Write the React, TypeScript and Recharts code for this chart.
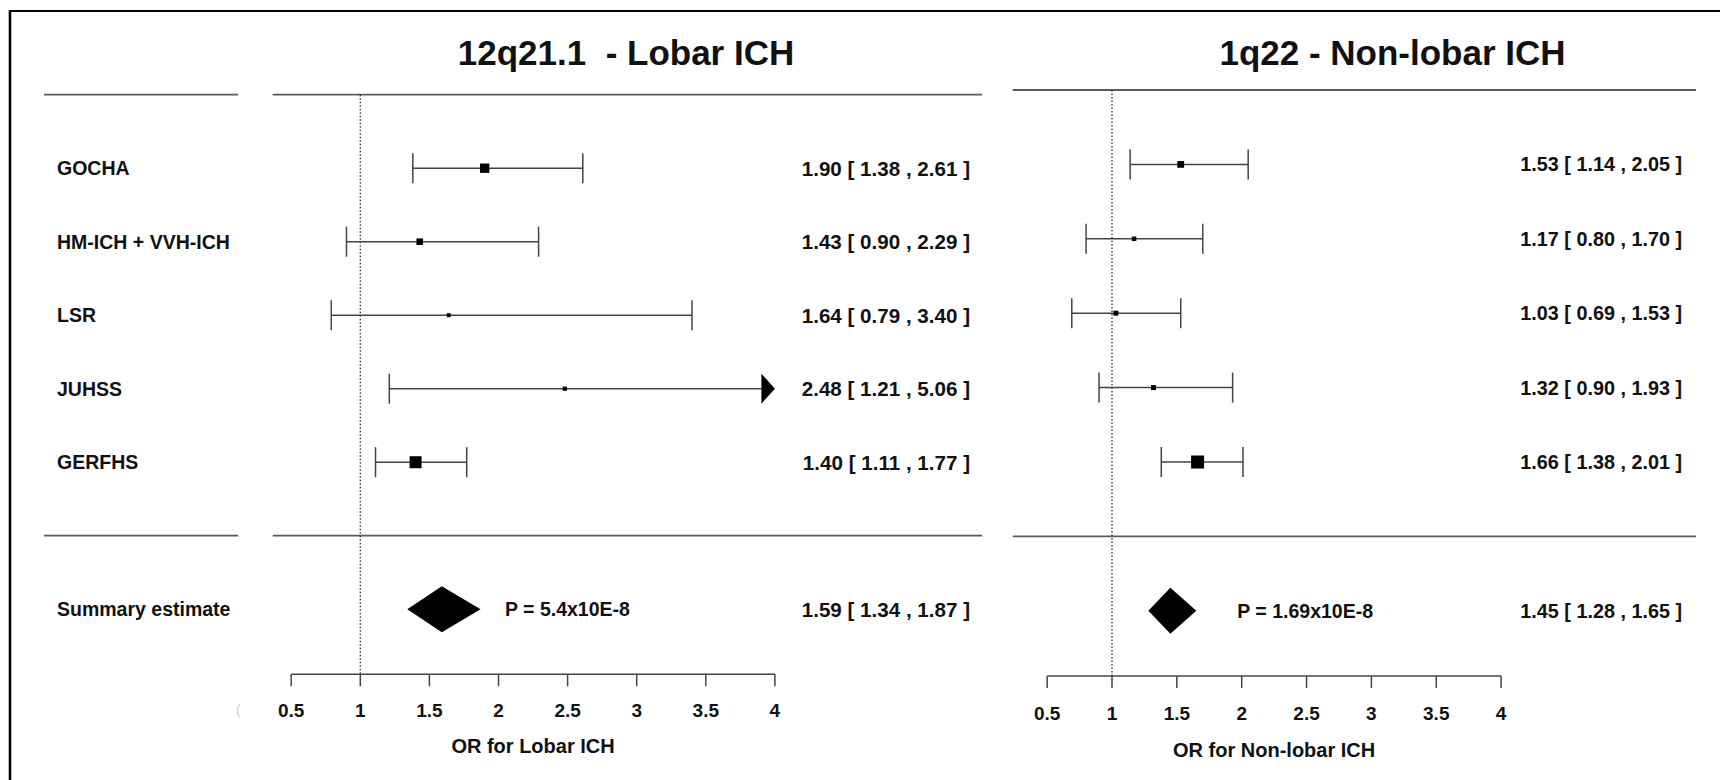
import { ComposedChart, XAxis, YAxis, Scatter, ReferenceLine } from 'recharts'

// Forest plots: two loci, each with five studies plus a summary diamond.

const studies = ['GOCHA', 'HM-ICH + VVH-ICH', 'LSR', 'JUHSS', 'GERFHS']
const summaryLabel = 'Summary estimate'
const orTicks = [0.5, 1, 1.5, 2, 2.5, 3, 3.5, 4]

const lobarTitle = '12q21.1  - Lobar ICH'
const lobarAxisTitle = 'OR for Lobar ICH'
const lobarOR = [1.9, 1.43, 1.64, 2.48, 1.4]
const lobarLow = [1.38, 0.9, 0.79, 1.21, 1.11]
const lobarHigh = [2.61, 2.29, 3.4, 5.06, 1.77]
const lobarWeight = [0.78, 0.55, 0.33, 0.35, 1]
const lobarSummary = [1.59, 1.34, 1.87]
const lobarP = 'P = 5.4x10E-8'

const nonLobarTitle = '1q22 - Non-lobar ICH'
const nonLobarAxisTitle = 'OR for Non-lobar ICH'
const nonLobarOR = [1.53, 1.17, 1.03, 1.32, 1.66]
const nonLobarLow = [1.14, 0.8, 0.69, 0.9, 1.38]
const nonLobarHigh = [2.05, 1.7, 1.53, 1.93, 2.01]
const nonLobarWeight = [0.52, 0.35, 0.38, 0.38, 1]
const nonLobarSummary = [1.45, 1.28, 1.65]
const nonLobarP = 'P = 1.69x10E-8'

const W = 1720
const H = 780
const FONT = '"Liberation Sans", Arial, Helvetica, sans-serif'
const INK = '#111'
const LINE = '#444'
const RULE = '#5a5a5a'
const CAP = 15
const ARROW_LEN = 13.5
const DIAMOND_H = 23

// pixel layout of each panel (both charts span the full page)
const lobarLayout = {
  one: 360.3, unit: 138.2, header: 94.7, step: 73.5, axis: 674.3,
  from: 272.7, to: 982, labelCol: [44, 238], boxMax: 12,
  textFrom: 57, ciEnd: 970, ciSize: 20.6, pOffset: 24.5, titleOffset: 64.3, tickMargin: 24.4,
}
const nonLobarLayout = {
  one: 1112, unit: 129.7, header: 90, step: 74.4, axis: 676,
  from: 1012.7, to: 1696, labelCol: null, boxMax: 13,
  textFrom: 1500, ciEnd: 1682, ciSize: 19.8, pOffset: 41, titleOffset: 66.8, tickMargin: 25.3,
}

const fmt = (v: number) => v.toFixed(2)

const whisker = (truncated: boolean) => (p: any) => {
  const end = truncated ? p.x2 - ARROW_LEN : p.x2
  return (
    <g>
      <line x1={p.x1} y1={p.y1} x2={end} y2={p.y2} stroke={LINE} strokeWidth={1.5} />
      <line x1={p.x1} y1={p.y1 - CAP} x2={p.x1} y2={p.y1 + CAP} stroke={LINE} strokeWidth={1.5} />
      {truncated ? (
        <polygon points={`${end},${p.y2 - CAP} ${p.x2},${p.y2} ${end},${p.y2 + CAP}`} fill="#000" />
      ) : (
        <line x1={p.x2} y1={p.y2 - CAP} x2={p.x2} y2={p.y2 + CAP} stroke={LINE} strokeWidth={1.5} />
      )}
    </g>
  )
}

const diamond = (frac: number) => (p: any) => {
  const mid = p.x1 + (p.x2 - p.x1) * frac
  return (
    <polygon
      points={`${p.x1},${p.y1} ${mid},${p.y1 - DIAMOND_H} ${p.x2},${p.y1} ${mid},${p.y1 + DIAMOND_H}`}
      fill="#000"
    />
  )
}

function ForestPanel({ layout, or, low, high, weight, summary, pText, axisTitle, labels }: any) {
  const L = layout
  const toV = (px: number) => 1 + (px - L.one) / L.unit
  const yTop = -L.header / L.step
  const yBottom = (L.axis - L.header) / L.step
  const sepRow = studies.length + 1
  const sumRow = studies.length + 2
  const xMax = orTicks[orTicks.length - 1]

  const rows = studies.map((name, i) => ({
    name, row: i + 1, or: or[i], low: low[i], high: high[i], w: weight[i],
  }))
  const textRows = [...rows.map(r => r.row), sumRow]

  const ciText = (row: number) => {
    if (row === sumRow) return `${fmt(summary[0])} [ ${fmt(summary[1])} , ${fmt(summary[2])} ]`
    const r = rows[row - 1]
    return `${fmt(r.or)} [ ${fmt(r.low)} , ${fmt(r.high)} ]`
  }
  const labelText = (row: number) => (row === sumRow ? summaryLabel : studies[row - 1])

  const textProps = { fill: INK, fontFamily: FONT, fontWeight: 700 }

  return (
    <div style={{ position: 'absolute', left: 0, top: 0 }}>
      <ComposedChart width={W} height={H} data={rows} margin={{ top: 0, right: 0, bottom: 0, left: 0 }}>
        <XAxis
          type="number"
          dataKey="or"
          domain={[toV(0), toV(W)]}
          allowDataOverflow
          ticks={orTicks}
          interval={0}
          height={H - L.axis}
          axisLine={false}
          tickSize={12}
          tickMargin={L.tickMargin}
          tickLine={{ stroke: LINE, strokeWidth: 1.5 }}
          tick={(p: any) => (
            <text x={p.x} y={p.y} textAnchor="middle" dominantBaseline="central" fontSize={19} {...textProps}>
              {p.payload.value}
            </text>
          )}
        />
        <YAxis yAxisId="rows" type="number" dataKey="row" domain={[yTop, yBottom]} allowDataOverflow reversed hide />

        {[0, sepRow].map(r => (
          <ReferenceLine
            key={`rule-${r}`}
            yAxisId="rows"
            segment={[{ x: toV(L.from), y: r }, { x: toV(L.to), y: r }]}
            stroke={RULE}
            strokeWidth={1.8}
            ifOverflow="visible"
          />
        ))}
        {L.labelCol &&
          [0, sepRow].map(r => (
            <ReferenceLine
              key={`lab-${r}`}
              yAxisId="rows"
              segment={[{ x: toV(L.labelCol[0]), y: r }, { x: toV(L.labelCol[1]), y: r }]}
              stroke={RULE}
              strokeWidth={1.8}
              ifOverflow="visible"
            />
          ))}

        <ReferenceLine
          yAxisId="rows"
          segment={[{ x: 1, y: 0 }, { x: 1, y: yBottom }]}
          stroke="#333"
          strokeWidth={1.3}
          strokeDasharray="1.5 2"
          ifOverflow="visible"
        />
        <ReferenceLine
          yAxisId="rows"
          segment={[{ x: orTicks[0], y: yBottom }, { x: xMax, y: yBottom }]}
          stroke={LINE}
          strokeWidth={1.5}
          ifOverflow="visible"
          label={{ value: axisTitle, position: 'bottom', offset: L.titleOffset, fontSize: 20, ...textProps }}
        />

        {/* study names on the left, OR [CI] text on the right */}
        {textRows.map(row => (
          <ReferenceLine
            key={`txt-${row}`}
            yAxisId="rows"
            segment={[{ x: toV(L.textFrom), y: row }, { x: toV(L.ciEnd), y: row }]}
            stroke="none"
            ifOverflow="visible"
            label={({ viewBox }: any) => (
              <g>
                {labels && (
                  <text x={viewBox.x} y={viewBox.y} dominantBaseline="central" fontSize={19.5} {...textProps}>
                    {labelText(row)}
                  </text>
                )}
                <text
                  x={viewBox.x + viewBox.width}
                  y={viewBox.y}
                  textAnchor="end"
                  dominantBaseline="central"
                  fontSize={L.ciSize}
                  {...textProps}
                >
                  {ciText(row)}
                </text>
              </g>
            )}
          />
        ))}

        {rows.map(r => (
          <ReferenceLine
            key={r.name}
            yAxisId="rows"
            segment={[{ x: r.low, y: r.row }, { x: Math.min(r.high, xMax), y: r.row }]}
            shape={whisker(r.high > xMax)}
            ifOverflow="visible"
          />
        ))}

        <ReferenceLine
          yAxisId="rows"
          segment={[{ x: summary[1], y: sumRow }, { x: summary[2], y: sumRow }]}
          shape={diamond((summary[0] - summary[1]) / (summary[2] - summary[1]))}
          ifOverflow="visible"
          label={{ value: pText, position: 'right', offset: L.pOffset, fontSize: 19.5, ...textProps }}
        />

        <Scatter
          yAxisId="rows"
          data={rows}
          dataKey="row"
          isAnimationActive={false}
          shape={(p: any) => {
            const s = p.payload.w * L.boxMax
            return <rect x={p.cx - s / 2} y={p.cy - s / 2} width={s} height={s} fill="#000" />
          }}
        />
      </ComposedChart>
    </div>
  )
}

export default function App() {
  return (
    <div style={{ position: 'absolute', left: 0, top: 0, width: W, height: H, background: '#fff', fontFamily: FONT }}>
      <svg width={W} height={H} style={{ position: 'absolute', left: 0, top: 0 }}>
        <line x1={10} y1={11} x2={W} y2={11} stroke="#000" strokeWidth={2.2} />
        <line x1={10} y1={10} x2={10} y2={H} stroke="#000" strokeWidth={2.6} />
        <text x={626} y={65} textAnchor="middle" fontSize={35} fontWeight={700} fill={INK} style={{ whiteSpace: 'pre' }}>
          {lobarTitle}
        </text>
        <text x={1392.5} y={64.5} textAnchor="middle" fontSize={35} fontWeight={700} fill={INK} style={{ whiteSpace: 'pre' }}>
          {nonLobarTitle}
        </text>
        <text x={238.3} y={710} textAnchor="middle" dominantBaseline="central" fontSize={14} fill="#cfcfcf">
          (
        </text>
      </svg>
      <ForestPanel
        layout={lobarLayout}
        or={lobarOR}
        low={lobarLow}
        high={lobarHigh}
        weight={lobarWeight}
        summary={lobarSummary}
        pText={lobarP}
        axisTitle={lobarAxisTitle}
        labels
      />
      <ForestPanel
        layout={nonLobarLayout}
        or={nonLobarOR}
        low={nonLobarLow}
        high={nonLobarHigh}
        weight={nonLobarWeight}
        summary={nonLobarSummary}
        pText={nonLobarP}
        axisTitle={nonLobarAxisTitle}
        labels={false}
      />
    </div>
  )
}
